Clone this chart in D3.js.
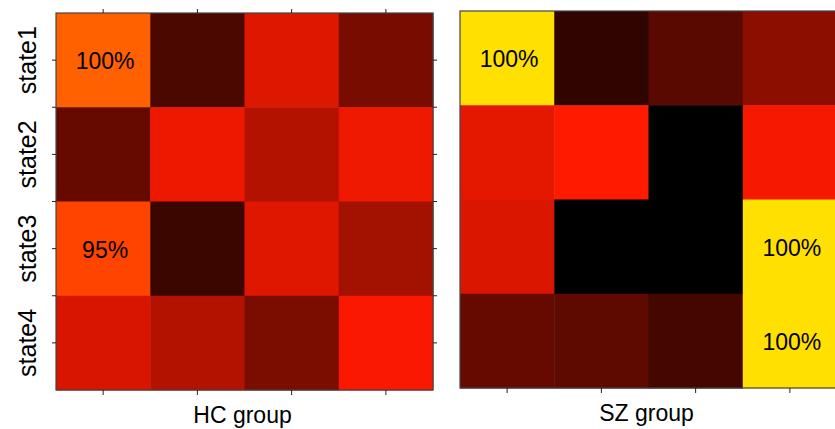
<!DOCTYPE html>
<html>
<head>
<meta charset="utf-8">
<script src="https://cdn.jsdelivr.net/npm/d3@7"></script>
<style>
body { margin: 0; background: #fff; }
text { font-family: "Liberation Sans", Arial, sans-serif; fill: #000; }
</style>
</head>
<body>
<div id="chart"></div>
<script>
var width = 835;
var height = 429;

var states = ["state1", "state2", "state3", "state4"];
var cols = [1, 2, 3, 4];

// cell values, 0 = black, 1 = yellow
var hcValues = [
	[0.74, 0.145, 0.433, 0.235],
	[0.20, 0.467, 0.353, 0.469],
	[0.642, 0.118, 0.439, 0.32],
	[0.424, 0.353, 0.24, 0.49]
];
var szValues = [
	[1.0, 0.094, 0.176, 0.275],
	[0.447, 0.5, 0.0, 0.48],
	[0.427, 0.0, 0.0, 1.0],
	[0.20, 0.184, 0.133, 1.0]
];

// labels written in cells: [row, col, text]
var hcLabels = [[0, 0, "100%"], [2, 0, "95%"]];
var szLabels = [[0, 0, "100%"], [2, 3, "100%"], [3, 3, "100%"]];

var color = d3.scaleLinear()
	.domain([0, 0.5, 0.75, 1])
	.range(["#000000", "#ff1a00", "#ff6400", "#ffe000"])
	.clamp(true);

var svg = d3.select("#chart")
	.append("svg")
	.attr("width", width)
	.attr("height", height);

function panel(opts) {
	var size = 377;
	var g = svg.append("g")
		.attr("transform", "translate(" + opts.x + "," + opts.y + ")");

	var x = d3.scaleBand().domain(cols).range([0, size]);
	var y = d3.scaleBand().domain(states).range([0, size]);

	var cells = [];
	opts.values.forEach(function(row, i) {
		row.forEach(function(v, j) {
			cells.push({ r: states[i], c: cols[j], v: v });
		});
	});

	g.selectAll(".cell")
		.data(cells)
		.enter()
		.append("rect")
		.attr("class", "cell")
		.attr("x", function(d) { return x(d.c); })
		.attr("y", function(d) { return y(d.r); })
		.attr("width", x.bandwidth() + 0.5)
		.attr("height", y.bandwidth() + 0.5)
		.attr("fill", function(d) { return color(d.v); });

	g.selectAll(".lab")
		.data(opts.labels)
		.enter()
		.append("text")
		.attr("class", "lab")
		.attr("x", function(d) { return x(cols[d[1]]) + x.bandwidth() / 2 + 2; })
		.attr("y", function(d) { return y(states[d[0]]) + y.bandwidth() / 2 + 9; })
		.attr("text-anchor", "middle")
		.style("font-size", "23px")
		.text(function(d) { return d[2]; });

	// frame
	g.append("rect")
		.attr("x", 0)
		.attr("y", 0)
		.attr("width", size)
		.attr("height", size)
		.attr("fill", "none")
		.attr("stroke", "#444")
		.attr("stroke-width", 1.2);

	// x ticks at column centres
	var xt = cols.map(function(c) { return x(c) + x.bandwidth() / 2; });
	g.selectAll(".xtb")
		.data(xt)
		.enter()
		.append("line")
		.attr("x1", function(d) { return d; })
		.attr("x2", function(d) { return d; })
		.attr("y1", size)
		.attr("y2", size + 5)
		.attr("stroke", "#222");

	if (opts.full) {
		g.selectAll(".xtt")
			.data(xt)
			.enter()
			.append("line")
			.attr("x1", function(d) { return d; })
			.attr("x2", function(d) { return d; })
			.attr("y1", 0)
			.attr("y2", -4)
			.attr("stroke", "#222");

		// y ticks at every half cell
		var yt = d3.range(1, 8).map(function(k) { return k * y.bandwidth() / 2; });
		g.selectAll(".ytl")
			.data(yt)
			.enter()
			.append("line")
			.attr("x1", 0)
			.attr("x2", -4)
			.attr("y1", function(d) { return d; })
			.attr("y2", function(d) { return d; })
			.attr("stroke", "#222");
		g.selectAll(".ytr")
			.data(yt)
			.enter()
			.append("line")
			.attr("x1", size)
			.attr("x2", size + 4)
			.attr("y1", function(d) { return d; })
			.attr("y2", function(d) { return d; })
			.attr("stroke", "#222");

		g.selectAll(".ylab")
			.data(states)
			.enter()
			.append("text")
			.attr("class", "ylab")
			.attr("transform", function(d) {
				return "translate(-20," + (y(d) + y.bandwidth() / 2) + ") rotate(-90)";
			})
			.attr("text-anchor", "middle")
			.style("font-size", "25px")
			.text(function(d) { return d; });
	}

	g.append("text")
		.attr("x", size / 2 - 2)
		.attr("y", size + 33)
		.attr("text-anchor", "middle")
		.style("font-size", "23px")
		.text(opts.title);
}

panel({ x: 56, y: 13, values: hcValues, labels: hcLabels, title: "HC group", full: true });
panel({ x: 460, y: 11, values: szValues, labels: szLabels, title: "SZ group", full: false });
</script>
</body>
</html>
